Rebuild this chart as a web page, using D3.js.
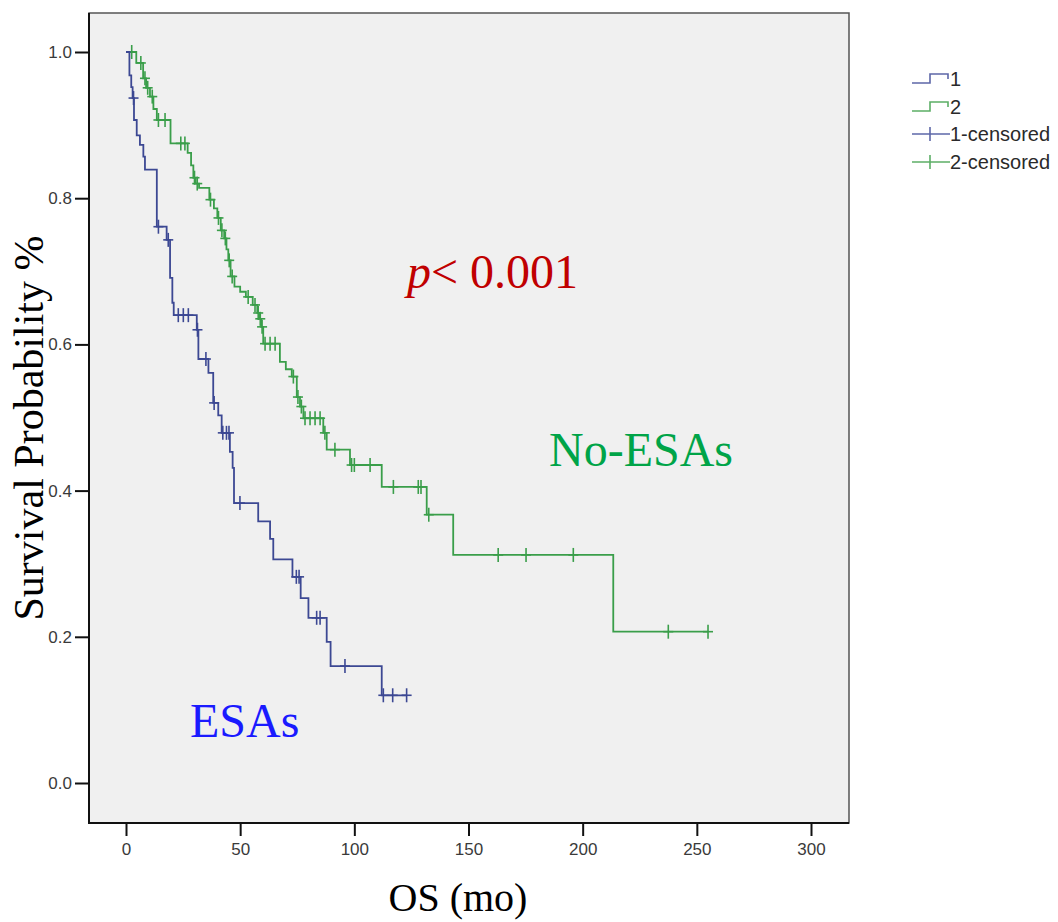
<!DOCTYPE html>
<html>
<head>
<meta charset="utf-8">
<script src="https://cdn.jsdelivr.net/npm/d3@7"></script>
<style>
  html, body { margin: 0; padding: 0; background: #ffffff; }
  svg { display: block; }
</style>
</head>
<body>
<svg id="chart" width="1058" height="922"></svg>
<script>
// Kaplan-Meier overall survival, ESAs (group 1) vs No-ESAs (group 2)

// Group 1 (ESAs): event times (months) and survival after each step
const esaTimes = [0, 1.5, 2.3, 2.9, 3.5, 4.7, 6.1, 7.6, 8.3, 13.5, 17.8, 19.3, 20.3, 20.9,
  31.0, 31.7, 36.1, 38.2, 40.4, 41.9, 45.5, 46.7, 47.3, 57.9, 63.1, 64.5, 72.9, 76.5,
  79.9, 87.9, 89.6, 112.0];
const esaSurv = [1.0, 0.968, 0.952, 0.937, 0.907, 0.886, 0.873, 0.857, 0.839, 0.761, 0.743,
  0.691, 0.657, 0.640, 0.620, 0.580, 0.561, 0.520, 0.503, 0.479, 0.453, 0.431, 0.383,
  0.358, 0.334, 0.306, 0.282, 0.253, 0.226, 0.193, 0.160, 0.120];
const esaCensored = [3.3, 14.2, 18.5, 22.9, 25.1, 27.3, 31.3, 35.0, 38.6, 42.4, 44.0, 45.1,
  49.9, 74.6, 75.8, 83.5, 85.0, 95.9, 112.7, 116.8, 122.9];

// Group 2 (No-ESAs)
const noEsaTimes = [0, 4.5, 7.5, 8.8, 10.5, 12.0, 13.5, 19.5, 27.0, 28.5, 29.5, 30.5, 32.0,
  36.5, 38.5, 40.0, 41.5, 43.0, 44.0, 44.8, 45.8, 47.5, 50.0, 52.5, 55.5, 57.5, 58.3,
  59.2, 60.1, 67.4, 70.0, 72.6, 74.8, 76.2, 77.7, 86.4, 87.9, 98.1, 112.0, 131.7,
  143.3, 213.4];
const noEsaSurv = [1.0, 0.985, 0.964, 0.951, 0.939, 0.922, 0.907, 0.875, 0.862, 0.845, 0.828,
  0.820, 0.814, 0.798, 0.786, 0.773, 0.756, 0.745, 0.730, 0.715, 0.693, 0.679, 0.672,
  0.665, 0.654, 0.643, 0.635, 0.624, 0.601, 0.576, 0.566, 0.556, 0.528, 0.515, 0.499,
  0.479, 0.456, 0.435, 0.405, 0.367, 0.312, 0.207];
const noEsaCensored = [2.5, 6.5, 8.3, 9.5, 11.5, 14.2, 17.1, 24.0, 25.8, 30.0, 31.2, 37.0,
  40.5, 42.0, 43.5, 45.2, 46.5, 53.5, 56.5, 57.9, 58.8, 59.6, 60.9, 63.1, 65.3, 73.3,
  75.3, 76.8, 78.4, 80.6, 82.8, 85.0, 87.1, 91.5, 98.8, 100.0, 106.9, 117.1, 128.0,
  129.2, 132.6, 163.0, 175.2, 195.9, 237.5, 254.9];

// Axis ticks and legend entries
const xTicks = [0, 50, 100, 150, 200, 250, 300];
const yTicks = [0.0, 0.2, 0.4, 0.6, 0.8, 1.0];
const legendLabels = ["1", "2", "1-censored", "2-censored"];

const colorEsa = "#3c4893";
const colorNoEsa = "#3a9e4a";
const legendEsa = "#5d67a8";
const legendNoEsa = "#5cae66";

const svg = d3.select("#chart");

// Plot frame
const frame = { left: 89, right: 849, top: 13, bottom: 823 };

const x = d3.scaleLinear().domain([0, 300]).range([126, 811]);
const y = d3.scaleLinear().domain([0, 1]).range([783, 52]);

svg.append("rect")
  .attr("x", frame.left).attr("y", frame.top)
  .attr("width", frame.right - frame.left)
  .attr("height", frame.bottom - frame.top)
  .attr("fill", "#f0f0f0")
  .attr("stroke", "#555")
  .attr("stroke-width", 1.5);

// Y axis
const yAxis = d3.axisLeft(y).tickValues(yTicks).tickFormat(d3.format(".1f")).tickSize(14).tickPadding(3);
const gy = svg.append("g").attr("transform", `translate(${frame.left},0)`).call(yAxis);
gy.select(".domain").remove();
gy.selectAll(".tick line").attr("stroke", "#111").attr("stroke-width", 2);
gy.selectAll(".tick text")
  .attr("font-family", "'Liberation Sans', Arial, sans-serif")
  .attr("font-size", 17).attr("fill", "#3a3a3a");

// X axis
const xAxis = d3.axisBottom(x).tickValues(xTicks).tickFormat(d3.format("d")).tickSize(13).tickPadding(7);
const gx = svg.append("g").attr("transform", `translate(0,${frame.bottom})`).call(xAxis);
gx.select(".domain").remove();
gx.selectAll(".tick line").attr("stroke", "#111").attr("stroke-width", 2);
gx.selectAll(".tick text")
  .attr("font-family", "'Liberation Sans', Arial, sans-serif")
  .attr("font-size", 17).attr("fill", "#3a3a3a");

// Left and bottom frame edges drawn heavier
svg.append("line").attr("x1", frame.left).attr("x2", frame.left)
  .attr("y1", frame.top).attr("y2", frame.bottom + 1)
  .attr("stroke", "#111").attr("stroke-width", 2);
svg.append("line").attr("x1", frame.left - 1).attr("x2", frame.right)
  .attr("y1", frame.bottom).attr("y2", frame.bottom)
  .attr("stroke", "#111").attr("stroke-width", 2);

// Survival step curves
const stepLine = d3.line().x(d => x(d[0])).y(d => y(d[1])).curve(d3.curveStepAfter);

function drawGroup(times, surv, censored, color) {
  const pts = times.map((t, i) => [t, surv[i]]);
  const lastT = Math.max(times[times.length - 1], d3.max(censored));
  pts.push([lastT, surv[surv.length - 1]]);
  svg.append("path")
    .datum(pts)
    .attr("d", stepLine)
    .attr("fill", "none")
    .attr("stroke", color)
    .attr("stroke-width", 1.8);

  const survAt = t => surv[Math.max(0, d3.bisectRight(times, t) - 1)];
  const g = svg.append("g");
  censored.forEach(c => {
    const cx = x(c), cy = y(survAt(c));
    g.append("line").attr("x1", cx).attr("x2", cx).attr("y1", cy - 7).attr("y2", cy + 7)
      .attr("stroke", color).attr("stroke-width", 1.6);
    g.append("line").attr("x1", cx - 5).attr("x2", cx + 5).attr("y1", cy).attr("y2", cy)
      .attr("stroke", color).attr("stroke-width", 1.6);
  });
}

drawGroup(noEsaTimes, noEsaSurv, noEsaCensored, colorNoEsa);
drawGroup(esaTimes, esaSurv, esaCensored, colorEsa);

// Legend
const legend = svg.append("g").attr("transform", "translate(912,0)");
const legendRows = [79, 107, 134, 162];
legendLabels.forEach((lab, i) => {
  const ly = legendRows[i];
  const col = (i % 2 === 0) ? legendEsa : legendNoEsa;
  if (i < 2) {
    legend.append("path")
      .attr("d", `M0,${ly + 4}H18V${ly - 5}H36V${ly}`)
      .attr("fill", "none").attr("stroke", col).attr("stroke-width", 1.6);
  } else {
    legend.append("line").attr("x1", 0).attr("x2", 38).attr("y1", ly).attr("y2", ly)
      .attr("stroke", col).attr("stroke-width", 1.6);
    legend.append("line").attr("x1", 18).attr("x2", 18).attr("y1", ly - 7).attr("y2", ly + 7)
      .attr("stroke", col).attr("stroke-width", 1.6);
  }
  legend.append("text")
    .attr("x", i < 2 ? 38 : 38).attr("y", ly + 7)
    .attr("font-family", "'Liberation Sans', Arial, sans-serif")
    .attr("font-size", 20).attr("fill", "#2a2a2a")
    .text(lab);
});

// Annotations
const pText = svg.append("text")
  .attr("x", 407).attr("y", 288)
  .attr("font-family", "'Liberation Serif', 'Times New Roman', serif")
  .attr("font-size", 48).attr("fill", "#c00000");
pText.append("tspan").attr("font-style", "italic").text("p");
pText.append("tspan").text("< 0.001");

svg.append("text")
  .attr("x", 549).attr("y", 466)
  .attr("font-family", "'Liberation Serif', 'Times New Roman', serif")
  .attr("font-size", 48).attr("fill", "#00a448")
  .text("No-ESAs");

svg.append("text")
  .attr("x", 190).attr("y", 737)
  .attr("font-family", "'Liberation Serif', 'Times New Roman', serif")
  .attr("font-size", 48).attr("fill", "#1a1aff")
  .text("ESAs");

// Axis titles
svg.append("text")
  .attr("x", 458).attr("y", 911)
  .attr("text-anchor", "middle")
  .attr("font-family", "'Liberation Serif', 'Times New Roman', serif")
  .attr("font-size", 40).attr("fill", "#000")
  .text("OS (mo)");

svg.append("text")
  .attr("transform", "translate(43,428) rotate(-90)")
  .attr("text-anchor", "middle")
  .attr("font-family", "'Liberation Serif', 'Times New Roman', serif")
  .attr("font-size", 42).attr("fill", "#000")
  .text("Survival Probability %");
</script>
</body>
</html>
